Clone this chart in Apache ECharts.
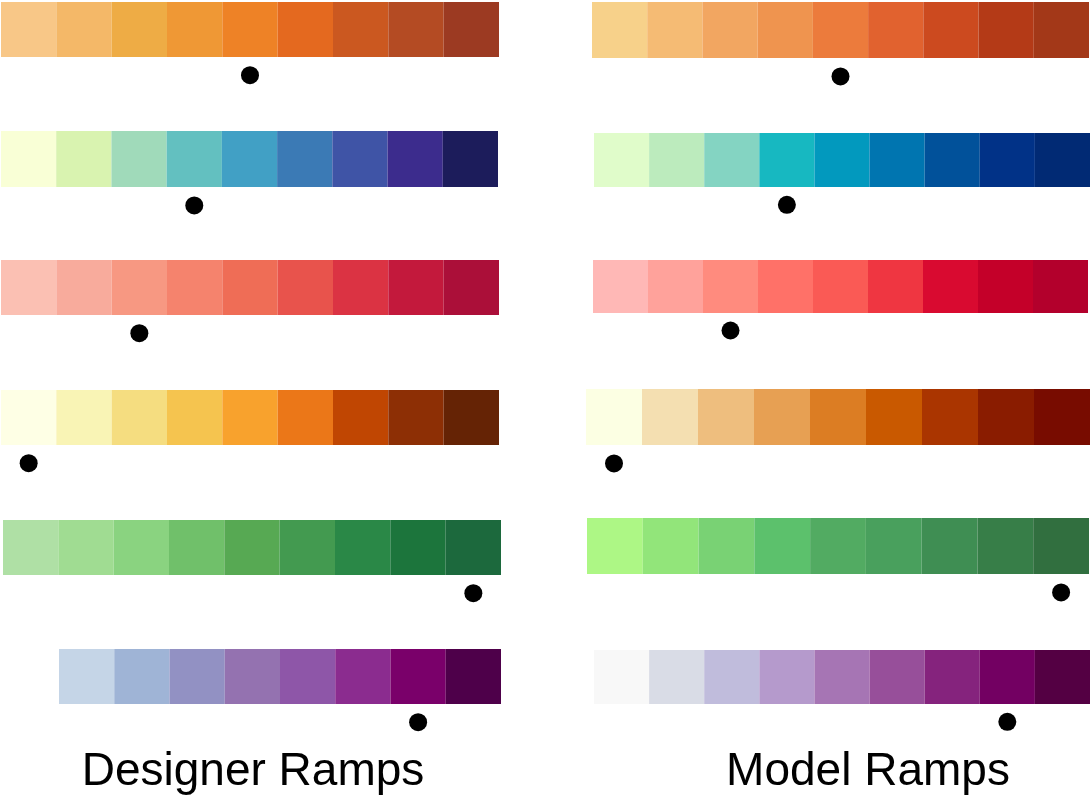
<!DOCTYPE html>
<html>
<head>
<meta charset="utf-8">
<script src="https://cdn.jsdelivr.net/npm/echarts@6/dist/echarts.min.js"></script>
<style>
  html, body { margin: 0; padding: 0; background: #fff; }
  #chart { width: 1091px; height: 804px; }
</style>
</head>
<body>
<div id="chart"></div>
<script>
// colour ramps, light -> dark
const designerRamps = [
  ["#F8C787", "#F4B868", "#EEAC45", "#EF9835", "#EE8226", "#E4691F", "#CB5820", "#B44B23", "#9C3A22"],
  ["#F9FFD6", "#D9F3B0", "#A0DABA", "#63C0C0", "#41A0C5", "#3B7AB5", "#3F54A6", "#3C2C8D", "#1C1C5B"],
  ["#FBC0B3", "#F8AB9C", "#F79882", "#F5836D", "#EF6D56", "#E8534C", "#DB3343", "#C3193C", "#AB0F39"],
  ["#FEFFE5", "#F9F4B5", "#F5DD80", "#F5C44F", "#F8A22D", "#EB7718", "#C04602", "#8D2F05", "#652305"],
  ["#AFE0A5", "#A0DC92", "#8AD380", "#70C06A", "#57A953", "#439A50", "#2A8847", "#1C753C", "#1C693D"],
  ["#C5D5E7", "#9FB4D6", "#9291C3", "#9472B0", "#8E56A8", "#8B2C8F", "#7A006A", "#4E004A"],
];
const modelRamps = [
  ["#F7D18A", "#F5BB74", "#F2A661", "#EF944F", "#EC7B3C", "#E1622F", "#CC4A1F", "#B43A17", "#A33818"],
  ["#E0FCCA", "#BCEBBD", "#84D4C2", "#17B8C1", "#0299BE", "#0075B0", "#01519A", "#013287", "#012A74"],
  ["#FFB8B6", "#FFA29B", "#FF8B7E", "#FF7168", "#FA5A55", "#EF3641", "#D90A30", "#C40029", "#B3002C"],
  ["#FCFFE3", "#F4DFB1", "#EEBE7E", "#E7A053", "#DC7D23", "#C95900", "#AA3500", "#8A1C00", "#780C00"],
  ["#ADF785", "#92E57A", "#79D274", "#5CC16C", "#52AB62", "#49A05D", "#3F8E53", "#377E48", "#316F3F"],
  ["#F8F8F8", "#D9DCE6", "#C0BCDC", "#B59ACC", "#A675B4", "#974F9A", "#85237D", "#730062", "#540043"],
];
// index of the marked swatch in each ramp
const designerMarks = [4, 3, 2, 0, 8, 6];
const modelMarks = [4, 3, 2, 0, 8, 7];
const dotLevel = -0.33;
const panelTitles = ["Designer Ramps", "Model Ramps"];

// bar boxes in px: [left, top, width, height]
const designerBoxes = [
  [1, 2, 498, 55], [1, 131, 497, 56], [1, 260, 498, 55],
  [1, 390, 498, 55], [3, 520, 498, 55], [59, 649, 442, 55],
];
const modelBoxes = [
  [592, 2, 497, 56], [594, 133, 496, 54], [593, 260, 495, 53],
  [586, 389, 504, 56], [587, 518, 502, 56], [594, 650, 496, 54],
];

const grid = [], xAxis = [], yAxis = [], series = [];

function addRamp(colors, mark, box) {
  const i = grid.length;
  const [left, top, width, height] = box;
  grid.push({ left: left, top: top, width: width, height: height * 1.5 });
  xAxis.push({
    type: "category",
    gridIndex: i,
    data: colors.map((c, k) => k + 1),
    show: false,
  });
  yAxis.push({ type: "value", gridIndex: i, min: -0.5, max: 1, show: false });
  series.push({
    type: "bar",
    xAxisIndex: i,
    yAxisIndex: i,
    barCategoryGap: "0%",
    silent: true,
    data: colors.map((c) => ({ value: 1, itemStyle: { color: c } })),
  });
  series.push({
    type: "scatter",
    xAxisIndex: i,
    yAxisIndex: i,
    symbolSize: 18,
    itemStyle: { color: "#000", opacity: 1 },
    silent: true,
    data: [[mark, dotLevel]],
  });
}

designerRamps.forEach((r, k) => addRamp(r, designerMarks[k], designerBoxes[k]));
modelRamps.forEach((r, k) => addRamp(r, modelMarks[k], modelBoxes[k]));

const chart = echarts.init(document.getElementById("chart"), null, { renderer: "canvas" });
chart.setOption({
  animation: false,
  backgroundColor: "#fff",
  grid: grid,
  xAxis: xAxis,
  yAxis: yAxis,
  series: series,
  graphic: [
    {
      type: "text",
      x: 253,
      y: 772,
      style: {
        text: panelTitles[0],
        font: "46px 'Liberation Sans', Arial, sans-serif",
        fill: "#000",
        align: "center",
        verticalAlign: "middle",
      },
    },
    {
      type: "text",
      x: 868,
      y: 772,
      style: {
        text: panelTitles[1],
        font: "46px 'Liberation Sans', Arial, sans-serif",
        fill: "#000",
        align: "center",
        verticalAlign: "middle",
      },
    },
  ],
});
</script>
</body>
</html>
